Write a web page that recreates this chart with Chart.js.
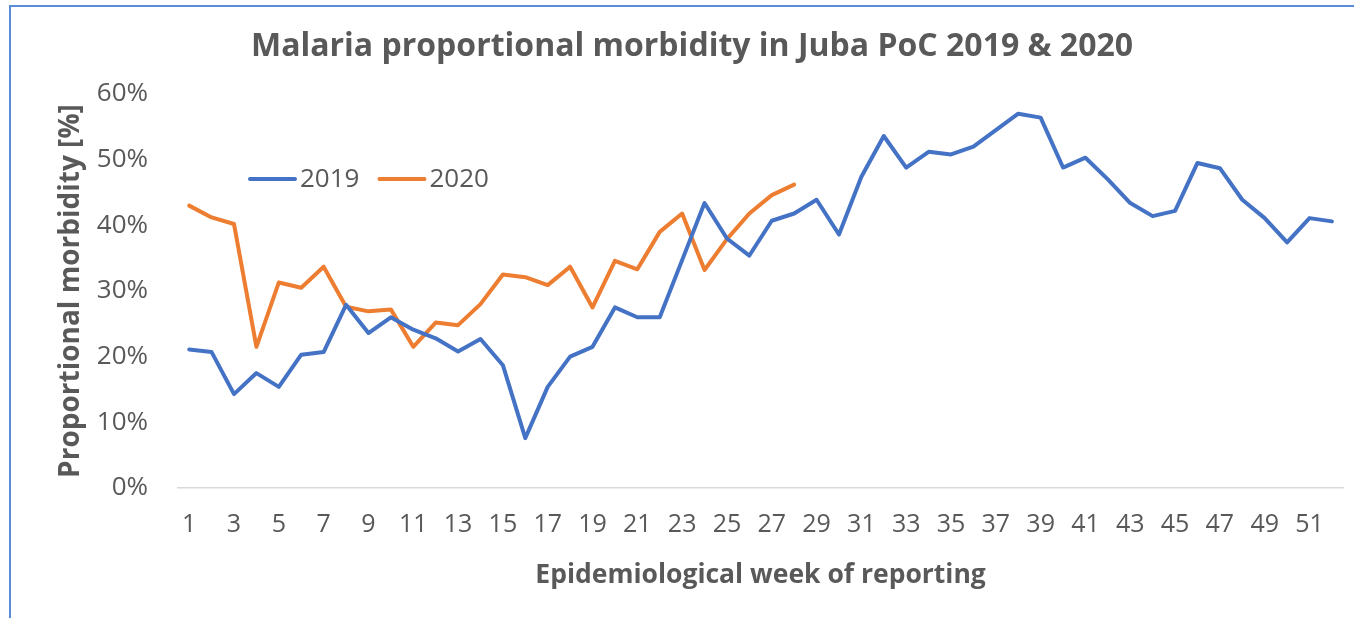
<!DOCTYPE html>
<html>
<head>
<meta charset="utf-8">
<script src="https://cdn.jsdelivr.net/npm/chart.js@4.4.1/dist/chart.umd.min.js"></script>
<style>
  html, body { margin: 0; padding: 0; background: #fff; }
  #wrap { position: relative; width: 1354px; height: 618px; }
  #frame { position: absolute; left: 9px; top: 5px; right: 0; bottom: 0;
           border-left: 2px solid #5b8bd8; border-top: 2px solid #5b8bd8; pointer-events: none; }
</style>
</head>
<body>
<div id="wrap">
  <canvas id="malaria" width="1354" height="618"></canvas>
  <div id="frame"></div>
</div>
<script>
var weeks = [];
for (var w = 1; w <= 52; w++) weeks.push(w);

var morbidity2019 = [21.1, 20.7, 14.3, 17.5, 15.4, 20.3, 20.7, 27.9, 23.6, 26.0,
    24.1, 22.8, 20.8, 22.7, 18.7, 7.6, 15.4, 20.0, 21.5, 27.5,
    26.0, 26.0, 34.7, 43.4, 38.0, 35.4, 40.7, 41.8, 43.9, 38.6,
    47.4, 53.6, 48.8, 51.2, 50.8, 52.0, 54.5, 57.0, 56.4, 48.8,
    50.3, 47.0, 43.4, 41.4, 42.2, 49.5, 48.7, 43.9, 41.1, 37.4,
    41.1, 40.6];

var morbidity2020 = [43.0, 41.2, 40.2, 21.5, 31.3, 30.5, 33.7, 27.6, 26.9, 27.2,
    21.5, 25.2, 24.8, 28.0, 32.5, 32.1, 30.9, 33.7, 27.5, 34.6,
    33.3, 39.0, 41.8, 33.2, 37.9, 41.8, 44.6, 46.2];

var seriesNames = ["2019", "2020"];
var seriesColors = ["#4472C4", "#ED7D31"];
var yTicks = [0, 10, 20, 30, 40, 50, 60];

var textColor = "#595959";
var fontFamily = "'Open Sans', sans-serif";

// title drawn by hand so it can sit where Excel put it
var titlePlugin = {
    id: "excelTitle",
    afterDraw: function(chart) {
        var ctx = chart.ctx;
        ctx.save();
        ctx.fillStyle = textColor;
        ctx.font = "bold 32px " + fontFamily;
        ctx.textAlign = "center";
        ctx.textBaseline = "middle";
        ctx.fillText("Malaria proportional morbidity in Juba PoC 2019 & 2020", 692, 47);
        ctx.restore();
    }
};

// legend sits inside the plot area, top left
var legendPlugin = {
    id: "insideLegend",
    afterDraw: function(chart) {
        var ctx = chart.ctx;
        var x = 250, y = 179;
        ctx.save();
        ctx.font = "26px " + fontFamily;
        ctx.textBaseline = "middle";
        chart.data.datasets.forEach(function(ds) {
            ctx.strokeStyle = ds.borderColor;
            ctx.lineWidth = 4;
            ctx.lineCap = "round";
            ctx.beginPath();
            ctx.moveTo(x, y);
            ctx.lineTo(x + 45, y);
            ctx.stroke();
            ctx.fillStyle = textColor;
            ctx.fillText(ds.label, x + 50, y + 1);
            x += 50 + ctx.measureText(ds.label).width + 20;
        });
        ctx.restore();
    }
};

var ctx = document.getElementById("malaria").getContext("2d");
var chart = new Chart(ctx, {
    type: "line",
    data: {
        labels: weeks,
        datasets: [
            {
                label: seriesNames[0],
                data: morbidity2019,
                borderColor: seriesColors[0],
                backgroundColor: seriesColors[0],
                borderWidth: 4,
                pointRadius: 0,
                tension: 0,
                borderCapStyle: "round",
                borderJoinStyle: "round"
            },
            {
                label: seriesNames[1],
                data: morbidity2020,
                borderColor: seriesColors[1],
                backgroundColor: seriesColors[1],
                borderWidth: 4,
                pointRadius: 0,
                tension: 0,
                borderCapStyle: "round",
                borderJoinStyle: "round"
            }
        ]
    },
    options: {
        responsive: false,
        animation: false,
        layout: { padding: { left: 0, right: 10, top: 94, bottom: 0 } },
        plugins: {
            legend: { display: false },
            title: { display: false },
            tooltip: { enabled: false }
        },
        scales: {
            x: {
                offset: true,
                grid: { display: false, drawTicks: false },
                border: { display: true, color: "#D9D9D9", width: 1.5 },
                ticks: {
                    autoSkip: false,
                    maxRotation: 0,
                    padding: 22,
                    color: textColor,
                    font: { family: fontFamily, size: 25 },
                    callback: function(val, i) {
                        return i % 2 === 0 ? weeks[i] : "";
                    }
                },
                title: {
                    display: true,
                    text: "Epidemiological week of reporting",
                    color: textColor,
                    font: { family: fontFamily, size: 26.5, weight: "bold" },
                    padding: { top: 0, bottom: 27 }
                },
                afterFit: function(scale) { scale.height = 130; }
            },
            y: {
                min: 0,
                max: 60,
                afterBuildTicks: function(scale) {
                    scale.ticks = yTicks.map(function(v) { return { value: v }; });
                },
                grid: { display: false, drawTicks: false },
                border: { display: false },
                ticks: {
                    padding: 30,
                    color: textColor,
                    font: { family: fontFamily, size: 26 },
                    callback: function(v) { return v + "%"; }
                },
                title: {
                    display: true,
                    text: "Proportional morbidity [%]",
                    color: textColor,
                    font: { family: fontFamily, size: 28, weight: "bold" },
                    padding: { top: 54, bottom: 0 }
                },
                afterFit: function(scale) { scale.width = 178; }
            }
        }
    },
    plugins: [titlePlugin, legendPlugin]
});
</script>
</body>
</html>
